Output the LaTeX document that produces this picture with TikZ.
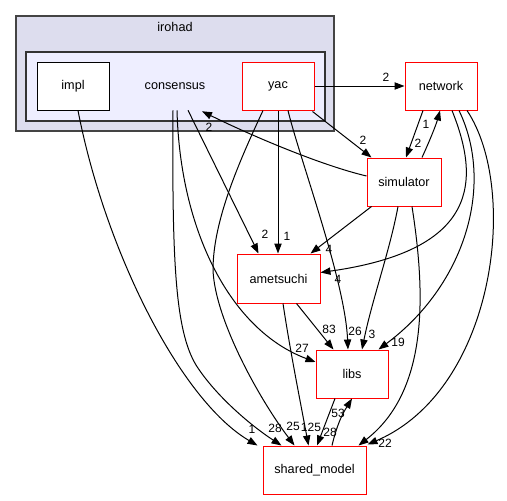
\documentclass[tikz,border=0pt]{standalone}
\usepackage{fontspec}
\setmainfont{Liberation Sans}
\usetikzlibrary{arrows.meta,calc}
\definecolor{outerfill}{HTML}{DDDDEE}
\definecolor{innerfill}{HTML}{EEEEFF}
\definecolor{outerline}{HTML}{444444}
\definecolor{boxred}{HTML}{FF0000}
\begin{document}
\begin{tikzpicture}[x=0.75pt,y=-0.75pt,
  font=\fontsize{9.5}{11}\selectfont,
  cluster/.style={draw=outerline,line width=1.1pt},
  dirbox/.style={draw=black,fill=white,line width=0.75pt,minimum width=54pt,minimum height=36pt,inner sep=0pt},
  redbox/.style={draw=boxred,fill=white,line width=0.75pt,minimum height=36pt,inner sep=0pt},
  edge/.style={draw=black,line width=0.75pt,-{Triangle[length=7.5pt,width=5.5pt]}},
  lbl/.style={inner sep=0pt,font=\fontsize{9}{10}\selectfont}]
\useasboundingbox (0,0) rectangle (507,500);
% clusters
\draw[cluster,fill=outerfill] (16,16) rectangle (334,131);
\node (irohadlbl) at (175,27) {irohad};
\draw[cluster,draw=black!80,fill=innerfill] (26,52) rectangle (325,121);
\node[minimum width=54pt,minimum height=36pt,inner sep=0pt] (consensus) at (175,86) {consensus};
% nodes
\node[dirbox] (impl) at (73,86) {impl};
\node[redbox,minimum width=54pt] (yac) at (278,86) {yac};
\node[redbox,minimum width=54pt] (network) at (441,86) {network};
\node[redbox,minimum width=55.5pt] (simulator) at (404,182) {simulator};
\node[redbox,minimum width=62.25pt,minimum height=36.75pt] (ametsuchi) at (278.5,278.5) {ametsuchi};
\node[redbox,minimum width=54pt] (libs) at (352,374) {libs};
\node[redbox,minimum width=77.25pt] (shared) at (314.5,470) {shared\_model};
% edges
\draw[edge] (yac.east) -- (network.west);
\node[lbl] (l1) at (386,77) {2};
\draw[edge] ($(yac.south east)+(-2,1)$) -- ($(simulator.north west)+(5,0)$);
\node[lbl] (l2) at (363,140) {2};
\draw[edge] ($(simulator.west)+(0,-6)$) .. controls (320,165) and (250,135) .. ($(consensus.south)+(27,1)$);
\node[lbl] (l3) at (209,127) {2};
\draw[edge] ($(network.south)+(-18,0)$) -- ($(simulator.north)+(2,0)$);
\node[lbl] (l4) at (418,143) {2};
\draw[edge] ($(simulator.north)+(18,0)$) .. controls (430,140) and (436,125) .. ($(network.south)+(-1,0)$);
\node[lbl] (l5) at (426,124) {1};
\draw[edge] ($(consensus.south)+(13,0)$) -- ($(ametsuchi.north)+(-20,0)$);
\node[lbl] (l6) at (265,234) {2};
\draw[edge] (yac.south) -- (yac.south |- ametsuchi.north);
\node[lbl] (l7) at (287,236) {1};
\draw[edge] ($(simulator.south west)+(5,0)$) -- ($(ametsuchi.north east)+(-10,0)$);
\node[lbl] (l8) at (329,249) {4};
\draw[edge] ($(network.south)+(11,0)$) .. controls (480,180) and (480,250) .. ($(ametsuchi.east)+(0,-6)$);
\node[lbl] (l9) at (338,279) {4};
\draw[edge] ($(network.south)+(18,0)$) .. controls (495,185) and (465,285) .. ($(libs.north east)+(-10,0)$);
\node[lbl] (l10) at (398,342) {19};
\draw[edge] ($(network.south)+(26,0)$) .. controls (520,190) and (495,390) .. ($(shared.north east)+(1,-1)$);
\node[lbl] (l11) at (385,443) {22};
\draw[edge] ($(simulator.south)+(8,0)$) .. controls (425,290) and (430,390) .. ($(shared.north east)+(-8,0)$);
\draw[edge] ($(simulator.south)+(-6,0)$) .. controls (390,250) and (372,300) .. ($(libs.north)+(10,0)$);
\node[lbl] (l12) at (372,334) {3};
\draw[edge] ($(yac.south)+(10,0)$) .. controls (300,160) and (345,280) .. ($(libs.north)+(-4,0)$);
\node[lbl] (l13) at (355,331) {26};
\draw[edge] ($(ametsuchi.south)+(18,0)$) -- ($(libs.north west)+(18,0)$);
\node[lbl] (l14) at (329,329) {83};
\draw[edge] ($(consensus.south)+(2,0)$) .. controls (180,230) and (230,330) .. ($(libs.west)+(0,-12)$);
\node[lbl] (l15) at (302,348) {27};
\draw[edge] ($(consensus.south)+(-2,0)$) .. controls (172,260) and (175,330) .. (196,365) .. controls (215,395) and (250,425) .. ($(shared.north west)+(19,0)$);
\node[lbl] (l16) at (275,428) {28};
\draw[edge] ($(yac.south)+(-15,0)$) .. controls (240,160) and (213,220) .. (213,270) .. controls (215,320) and (260,400) .. ($(shared.north west)+(32,0)$);
\node[lbl] (l17) at (293,426) {25};
\draw[edge] ($(impl.south)+(5,0)$) .. controls (105,250) and (180,400) .. ($(shared.north west)+(-5,0)$);
\node[lbl] (l18) at (252,429) {1};
\draw[edge] ($(ametsuchi.south)+(4.5,0)$) .. controls (290,350) and (300,400) .. ($(shared.north)+(-6,0)$);
\node[lbl] (l19) at (311,427) {125};
\draw[edge] ($(libs.south)+(-17,0)$) -- ($(shared.north)+(2.5,0)$);
\node[lbl] (l20) at (330,432) {28};
\draw[edge] ($(shared.north)+(17.5,0)$) .. controls (338,420) and (345,410) .. (libs.south);
\node[lbl] (l21) at (338,413) {53};
\end{tikzpicture}
\end{document}
